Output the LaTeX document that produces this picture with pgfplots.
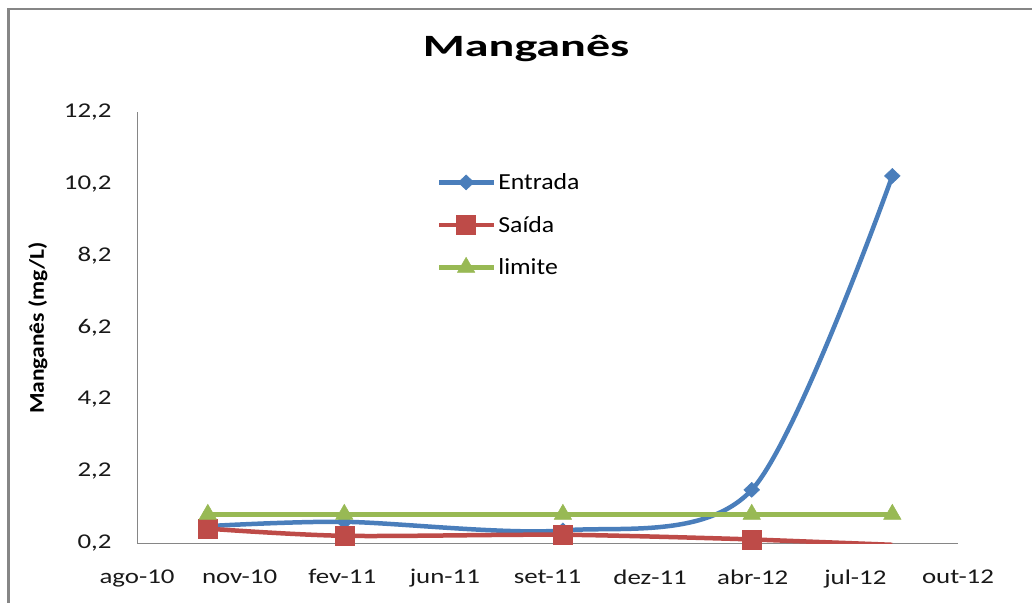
\documentclass[border=0pt]{standalone}
\usepackage{pgfplots}
\pgfplotsset{compat=1.18}
\usepackage{fontspec}
\setmainfont{Carlito}[FakeStretch=1.12]
\newfontfamily\titlefont{Carlito}[FakeStretch=1.55]
\newfontfamily\tickfont{Carlito}[FakeStretch=1.28]
\definecolor{cblue}{HTML}{4A7EBB}
\definecolor{cred}{HTML}{BE4B48}
\definecolor{cgreen}{HTML}{98B954}
\definecolor{axgray}{HTML}{868686}
\begin{document}
\begin{tikzpicture}[x=1bp,y=1bp]
\path[use as bounding box, fill=white] (0,0) rectangle (1032,-603);
\draw[axgray, line width=1.5bp] (7,-9) -- (1032,-9);
\draw[axgray, line width=3bp] (8.5,-9) -- (8.5,-603);
\begin{axis}[
  at={(137bp,-543bp)}, anchor=south west,
  scale only axis, width=821bp, height=431bp,
  xmin=0, xmax=800, ymin=0.2, ymax=12.2,
  xtick={0,100,200,300,400,500,600,700,800},
  xticklabels={ago-10,nov-10,fev-11,jun-11,set-11,dez-11,abr-12,jul-12,out-12},
  ytick={0.2,2.2,4.2,6.2,8.2,10.2,12.2},
  yticklabels={{0,2},{2,2},{4,2},{6,2},{8,2},{10,2},{12,2}},
  axis x line*=bottom, axis y line*=left,
  axis line style={axgray, line width=1bp},
  major tick length=0pt,
  tick label style={font=\fontsize{21bp}{24bp}\tickfont, text=black!90},
  xticklabel style={yshift=-23bp},
  yticklabel style={xshift=-22bp},
  title={\fontsize{31bp}{31bp}\titlefont\bfseries Manganês},
  title style={at={(0.474,1)}, anchor=center, yshift=57bp},
  ylabel={\fontsize{21bp}{21bp}\selectfont\bfseries Manganês (mg/L)},
  ylabel style={at={(axis description cs:-0.1206,0.499)}, anchor=center},
  legend style={draw=none, fill=none, at={(0.365,0.862)}, anchor=north west,
    font=\fontsize{23bp}{23bp}\selectfont, row sep=21bp, inner sep=0pt,
    cells={anchor=west}},
  legend image code/.code={\draw[mark repeat=2,mark phase=2,#1] plot coordinates {(0bp,0bp) (27bp,0bp) (55bp,0bp)};},
]
\addplot[cblue, line width=4.5bp, smooth, mark=diamond*, mark size=7.5bp,
  mark options={solid, line width=0.5bp, xscale=1.4}]
  coordinates {(69,0.67) (202,0.79) (415,0.55) (599,1.68) (736,10.42)};
\addlegendentry{Entrada}
\addplot[cred, line width=4.5bp, smooth, forget plot]
  coordinates {(599,0.3) (736,0.15)};
\addplot[cred, line width=4.5bp, smooth, mark=square*, mark size=9.5bp,
  mark options={solid, line width=0.5bp}]
  coordinates {(69,0.6) (202,0.4) (415,0.43) (599,0.3)};
\addlegendentry{Saída}
\addplot[cgreen, line width=4.5bp, mark=triangle*, mark size=10bp,
  mark options={solid, line width=0.5bp}]
  coordinates {(69,1.0) (202,1.0) (415,1.0) (599,1.0) (736,1.0)};
\addlegendentry{limite}
\end{axis}
\end{tikzpicture}
\end{document}
